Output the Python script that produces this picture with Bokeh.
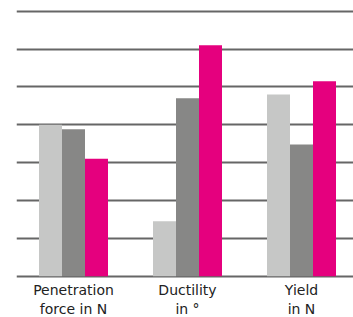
from bokeh.plotting import figure
from bokeh.models import ColumnDataSource, Range1d, FixedTicker
from bokeh.transform import dodge
from bokeh.core.properties import value
from bokeh.embed import file_html
from bokeh.resources import INLINE

categories = ["Penetration\nforce in N", "Ductility\nin °", "Yield\nin N"]
series_a = [4.0, 1.45, 4.8]
series_b = [3.88, 4.7, 3.48]
series_c = [3.1, 6.1, 5.15]
grid_values = [0, 1, 2, 3, 4, 5, 6, 7]

colors = ["#c6c7c6", "#878786", "#e5007e"]

W, H = 353, 317
LEFT = 16
GROUP_PX = 114.0
UNIT_PX = 37.86
BASE_Y = 275.7  # baseline within figure

x_pos = [i + 0.5 for i in range(len(categories))]
src = ColumnDataSource(dict(x=x_pos, a=series_a, b=series_b, c=series_c,
                            label=categories, zero=[0] * len(categories)))

p = figure(width=W, height=H, output_backend="svg", toolbar_location=None,
           x_range=Range1d(0, (W - LEFT) / GROUP_PX),
           y_range=Range1d(-(H - BASE_Y) / UNIT_PX, BASE_Y / UNIT_PX),
           min_border_left=LEFT, min_border_right=0, min_border_top=0, min_border_bottom=0)
p.outline_line_color = None
p.background_fill_color = "white"
p.border_fill_color = "white"
p.xaxis.visible = False
p.yaxis.visible = False
p.xgrid.visible = False
p.ygrid.ticker = FixedTicker(ticks=grid_values)
p.ygrid.grid_line_color = "#666666"
p.ygrid.grid_line_width = 2
p.ygrid.level = "underlay"

bw = 23 / GROUP_PX
for key, off, col in zip(["a", "b", "c"], [-bw, 0, bw], colors):
    p.vbar(x=dodge("x", off), top=key, bottom=0, width=bw, source=src,
           fill_color=col, line_color=None)

p.text(x="x", y="zero", text="label", source=src, text_align="center",
       text_baseline="top", y_offset=6, text_font=value("DejaVu Sans"),
       text_font_size="14px", text_color="#222222", text_line_height=1.15)

open("out.html", "w").write(file_html(p, INLINE))
